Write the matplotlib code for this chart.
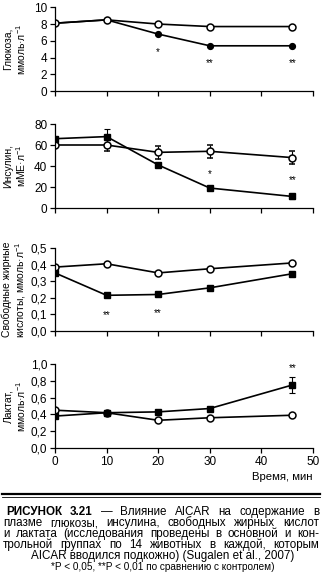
import numpy as np
import matplotlib.pyplot as plt
from matplotlib.lines import Line2D
from matplotlib.ticker import FuncFormatter

plt.rcParams['font.family'] = ['Liberation Sans', 'DejaVu Sans']
plt.rcParams['mathtext.fontset'] = 'custom'
plt.rcParams['mathtext.rm'] = 'Liberation Sans'

# Time points, min
time_min = [0, 10, 20, 30, 46]

# Glucose, mmol/l
glucose_aicar = [8.1, 8.5, 6.8, 5.4, 5.4]
glucose_ctrl = [8.1, 8.5, 8.0, 7.7, 7.7]

# Insulin, mU/l
insulin_aicar = [66, 68, 41, 19, 11]
insulin_aicar_err = [2, 7, 2, 2, 2]
insulin_ctrl = [60, 60, 53, 54, 48]
insulin_ctrl_err = [2, 6, 6, 6, 6]

# Free fatty acids, mmol/l
ffa_aicar = [0.35, 0.215, 0.22, 0.26, 0.345]
ffa_ctrl = [0.385, 0.405, 0.35, 0.375, 0.41]

# Lactate, mmol/l
lactate_aicar = [0.38, 0.42, 0.43, 0.47, 0.75]
lactate_aicar_err = [0.01, 0.01, 0.01, 0.01, 0.1]
lactate_ctrl = [0.45, 0.42, 0.33, 0.36, 0.39]

W, H = 326, 577
fig = plt.figure(figsize=(W / 100, H / 100), dpi=100)
fig.patch.set_facecolor('white')

# Panel placement in pixels: (top, bottom)
panel_px = [(7.3, 91), (124, 208), (248, 331), (364, 448)]
left_px, right_px = 55, 313

def make_axes(top, bottom):
  ax = fig.add_axes([left_px / W, 1 - bottom / H, (right_px - left_px) / W, (bottom - top) / H])
  ax.spines['top'].set_visible(False)
  ax.spines['right'].set_visible(False)
  ax.spines['left'].set_linewidth(0.9)
  ax.spines['bottom'].set_linewidth(0.9)
  ax.set_xlim(0, 50)
  ax.set_xticks(np.arange(0, 51, 10))
  ax.tick_params(direction='out', length=3.5, width=0.9, labelsize=8.5, pad=2)
  ax.set_facecolor('none')
  return ax

comma = FuncFormatter(lambda v, p: f'{v:.1f}'.replace('.', ','))
line_kw = dict(color='black', lw=1.2)
label_kw = dict(fontsize=7.5, linespacing=1.1)

axes = [make_axes(t, b) for t, b in panel_px]
ax1, ax2, ax3, ax4 = axes

# Glucose
ax1.plot(time_min, glucose_aicar, marker='o', ms=4.2, mfc='black', mec='black', **line_kw)
ax1.plot(time_min, glucose_ctrl, marker='o', ms=5, mfc='white', mec='black', mew=1.1, **line_kw)
ax1.set_ylim(0, 10)
ax1.set_yticks(np.arange(0, 11, 2))
ax1.text(20, 4.7, '*', ha='center', va='center', fontsize=7)
ax1.text(30, 3.3, '**', ha='center', va='center', fontsize=7)
ax1.text(46, 3.3, '**', ha='center', va='center', fontsize=7)
ax1.set_ylabel('Глюкоза,\nммоль·л$^{-1}$', **label_kw)

# Insulin
ax2.errorbar(time_min, insulin_ctrl, yerr=insulin_ctrl_err, marker='o', ms=5, mfc='white', mec='black',
             mew=1.1, capsize=2, elinewidth=0.8, capthick=0.8, **line_kw)
ax2.errorbar(time_min, insulin_aicar, yerr=insulin_aicar_err, marker='s', ms=4.2, mfc='black', mec='black',
             capsize=2, elinewidth=0.8, capthick=0.8, **line_kw)
ax2.set_ylim(0, 80)
ax2.set_yticks(np.arange(0, 81, 20))
ax2.text(30, 32, '*', ha='center', va='center', fontsize=7)
ax2.text(46, 27, '**', ha='center', va='center', fontsize=7)
ax2.set_ylabel('Инсулин,\nмМЕ·л$^{-1}$', **label_kw)

# Free fatty acids
ax3.plot(time_min, ffa_ctrl, marker='o', ms=5, mfc='white', mec='black', mew=1.1, **line_kw)
ax3.plot(time_min, ffa_aicar, marker='s', ms=4.2, mfc='black', mec='black', **line_kw)
ax3.set_ylim(0, 0.5)
ax3.set_yticks(np.arange(0, 0.51, 0.1))
ax3.yaxis.set_major_formatter(comma)
ax3.text(10, 0.097, '**', ha='center', va='center', fontsize=7)
ax3.text(20, 0.107, '**', ha='center', va='center', fontsize=7)
ax3.set_ylabel('Свободные жирные\nкислоты, ммоль·л$^{-1}$', **label_kw)

# Lactate
ax4.plot(time_min, lactate_ctrl, marker='o', ms=5, mfc='white', mec='black', mew=1.1, **line_kw)
ax4.errorbar(time_min, lactate_aicar, yerr=lactate_aicar_err, marker='s', ms=4.2, mfc='black', mec='black',
             capsize=2, elinewidth=0.8, capthick=0.8, **line_kw)
ax4.set_ylim(0, 1.0)
ax4.set_yticks(np.arange(0, 1.01, 0.2))
ax4.yaxis.set_major_formatter(comma)
ax4.text(46, 0.95, '**', ha='center', va='center', fontsize=7)
ax4.set_ylabel('Лактат,\nммоль·л$^{-1}$', **label_kw)

for ax in axes[:3]:
  ax.tick_params(axis='x', labelbottom=False)

# Shared ylabel column, right edge about 27 px from the figure edge
for ax in axes:
  ax.yaxis.set_label_coords(-(left_px - 28) / (right_px - left_px), 0.5)

fig.text(right_px / W, 1 - 477 / H, 'Время, мин', ha='right', va='center', fontsize=8.2)

# Double rule above the caption
fig.add_artist(Line2D([2 / W, 320 / W], [1 - 493.5 / H] * 2, color='black', lw=1.6))
fig.add_artist(Line2D([2 / W, 320 / W], [1 - 496.5 / H] * 2, color='black', lw=0.6))

renderer = fig.canvas.get_renderer()

# Place words so the line fills the width from x0 to x1 (pixels)
def justified_line(tokens, y, x0, x1, size):
  items = []
  for word, weight in tokens:
    t = fig.text(0, 1 - y / H, word, fontsize=size, fontweight=weight, va='center', ha='left')
    items.append((t, t.get_window_extent(renderer).width))
  gap = (x1 - x0 - sum(w for _, w in items)) / (len(items) - 1)
  x = x0
  for t, w in items:
    t.set_x(x / W)
    x += w + gap

def words(s, weight='normal'):
  return [(w, weight) for w in s.split()]

cap_size = 8.4
justified_line(words('РИСУНОК 3.21', 'bold') + words('— Влияние AICAR на содержание в'), 512, 6, 319, cap_size)
justified_line(words('плазме глюкозы, инсулина, свободных жирных кислот'), 523, 3, 319, cap_size)
justified_line(words('и лактата (исследования проведены в основной и кон-'), 534, 3, 319, cap_size)
justified_line(words('трольной группах по 14 животных в каждой, которым'), 545, 3, 319, cap_size)
fig.text(163 / W, 1 - 556 / H, 'AICAR вводился подкожно) (Sugalen et al., 2007)', ha='center', va='center', fontsize=cap_size)
fig.text(163 / W, 1 - 567 / H, '*P < 0,05, **P < 0,01 по сравнению с контролем)', ha='center', va='center', fontsize=7.2)

fig.savefig('out.png', dpi=100, facecolor='white')
